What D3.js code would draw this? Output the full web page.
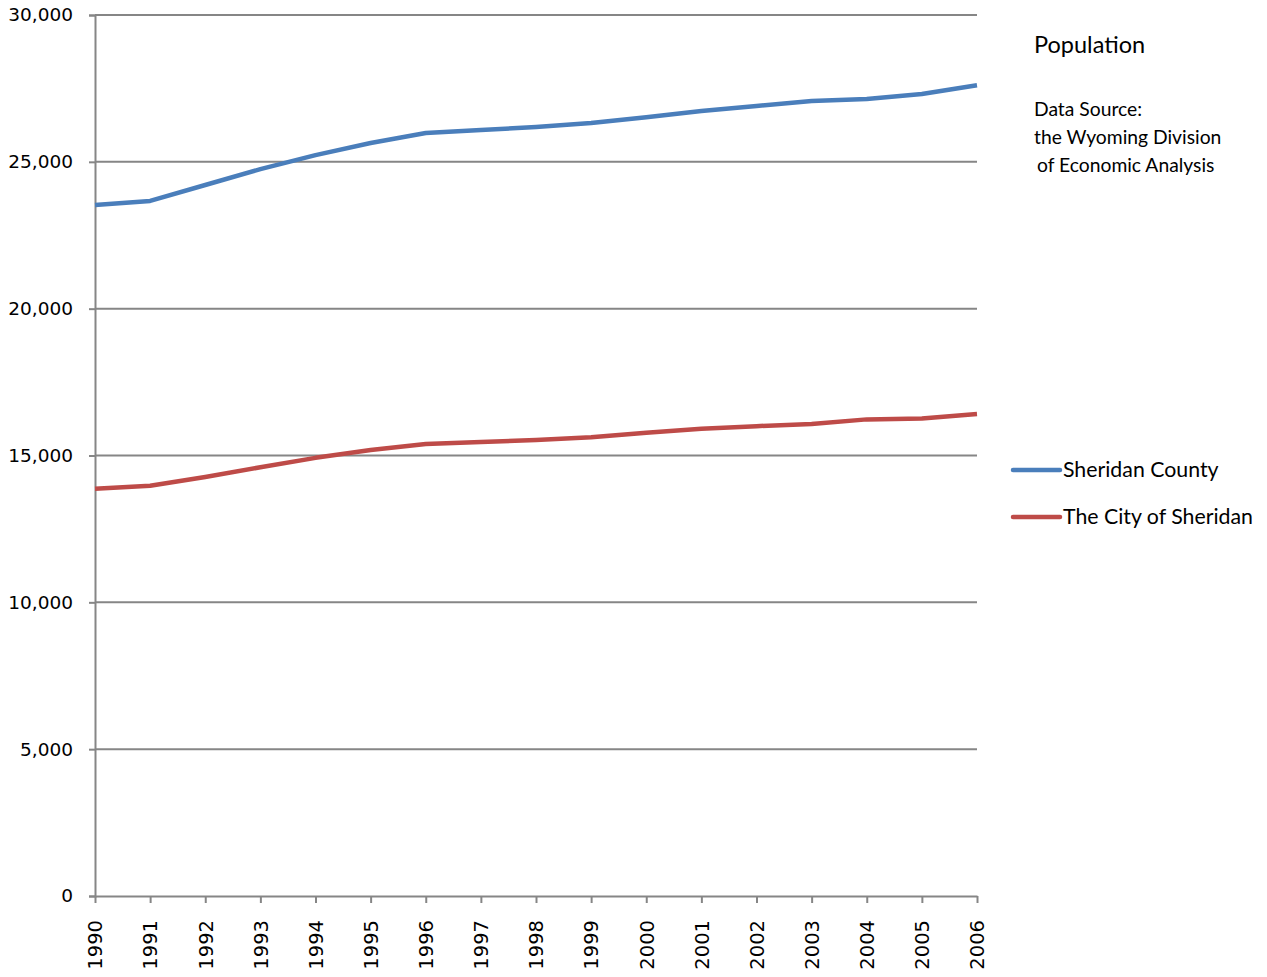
<!DOCTYPE html>
<html>
<head>
<meta charset="utf-8">
<script src="https://cdn.jsdelivr.net/npm/d3@7"></script>
<style>
html,body{margin:0;padding:0;background:#fff;}
svg{display:block;}
</style>
</head>
<body>
<svg id="chart" width="1267" height="977"></svg>
<script>
const years = [1990,1991,1992,1993,1994,1995,1996,1997,1998,1999,2000,2001,2002,2003,2004,2005,2006];
const countyValues = [23530,23670,24210,24750,25230,25640,25980,26080,26190,26320,26520,26730,26900,27070,27140,27310,27610];
const cityValues = [13870,13970,14270,14600,14920,15190,15390,15460,15530,15620,15775,15910,16000,16070,16230,16260,16410];
const yTicks = [0,5000,10000,15000,20000,25000,30000];
const seriesNames = ["Sheridan County","The City of Sheridan"];
const seriesColors = ["#4a7ebb","#be4b48"];

(function(){
const svg = d3.select("#chart");
const pLeft = 95, pRight = 977, pTop = 15, pBottom = 896;

const x = d3.scalePoint().domain(years).range([pLeft, pRight]);
const y = d3.scaleLinear().domain([0,30000]).range([pBottom, pTop]);

const axisFont = "'DejaVu Sans', Verdana, sans-serif";
const gridColor = "#868686";

svg.append("g").selectAll("line").data(yTicks.filter(d=>d>0)).join("line")
  .attr("x1", pLeft).attr("x2", pRight)
  .attr("y1", d=>y(d)).attr("y2", d=>y(d))
  .attr("stroke", gridColor).attr("stroke-width", 2);

const yAxis = svg.append("g").attr("transform", `translate(${pLeft},0)`)
  .call(d3.axisLeft(y).tickValues(yTicks).tickSize(6).tickPadding(16).tickFormat(d3.format(",")));
yAxis.select(".domain").attr("stroke", gridColor).attr("stroke-width", 2);
yAxis.selectAll(".tick line").attr("stroke", gridColor).attr("stroke-width", 2);
yAxis.selectAll("text").attr("font-family", axisFont).attr("font-size", 18.5).attr("fill", "#000");

const xAxis = svg.append("g").attr("transform", `translate(0,${pBottom})`)
  .call(d3.axisBottom(x).tickSize(7).tickSizeOuter(0));
xAxis.select(".domain").attr("stroke", gridColor).attr("stroke-width", 2);
xAxis.selectAll(".tick line").attr("stroke", gridColor).attr("stroke-width", 2);
xAxis.selectAll("text")
  .attr("font-family", axisFont).attr("font-size", 19.5).attr("fill", "#000")
  .attr("transform", "rotate(-90)")
  .attr("text-anchor", "end")
  .attr("x", -24).attr("y", 0).attr("dy", "0.35em");

const line = d3.line().x((d,i)=>x(years[i])).y(d=>y(d));
[countyValues, cityValues].forEach((vals, k) => {
  svg.append("path").datum(vals)
    .attr("d", line)
    .attr("fill", "none")
    .attr("stroke", seriesColors[k])
    .attr("stroke-width", 4.5)
    .attr("stroke-linejoin", "round")
    .attr("stroke-linecap", "butt");
});

const textFont = "Lato, 'Open Sans', sans-serif";
svg.append("text").attr("x", 1034).attr("y", 53)
  .attr("font-family", textFont).attr("font-size", 23.5).attr("fill", "#000")
  .text("Population");
const src = ["Data Source:", "the Wyoming Division", "of Economic Analysis"];
svg.append("g").selectAll("text").data(src).join("text")
  .attr("x", (d,i)=> i===2 ? 1037 : 1034)
  .attr("y", (d,i)=>116 + i*28)
  .attr("font-family", textFont).attr("font-size", 19.3).attr("fill", "#000")
  .text(d=>d);

const leg = svg.append("g");
seriesNames.forEach((name, k) => {
  const ly = 470 + k*47;
  leg.append("line").attr("x1", 1013).attr("x2", 1060).attr("y1", ly).attr("y2", ly)
    .attr("stroke", seriesColors[k]).attr("stroke-width", 4.5).attr("stroke-linecap","round");
  leg.append("text").attr("x", 1063).attr("y", ly + 7)
    .attr("font-family", textFont).attr("font-size", 21.3).attr("fill", "#000")
    .text(name);
});
})();
</script>
</body>
</html>
